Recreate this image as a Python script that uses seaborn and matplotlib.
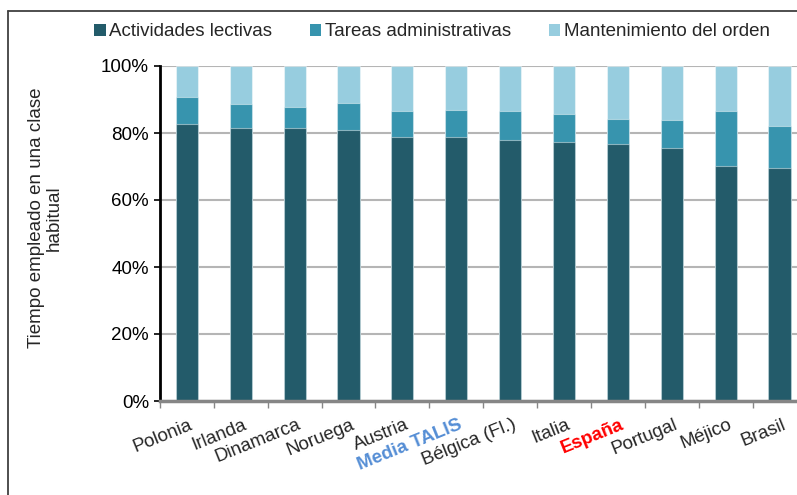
import numpy as np
import pandas as pd
import matplotlib
matplotlib.use('Agg')
import matplotlib.pyplot as plt
import matplotlib.transforms as mtransforms
from matplotlib.lines import Line2D
from matplotlib.patches import Patch
import seaborn as sns

# Data (percent of class time)
paises = ['Polonia', 'Irlanda', 'Dinamarca', 'Noruega', 'Austria', 'Media TALIS',
          'Bélgica (Fl.)', 'Italia', 'España', 'Portugal', 'Méjico', 'Brasil']
lectivas = [82.6, 81.6, 81.6, 81.0, 78.9, 78.9, 77.8, 77.2, 76.8, 75.6, 70.2, 69.5]
administrativas = [8.2, 7.1, 6.3, 8.0, 7.8, 8.1, 8.9, 8.6, 7.5, 8.4, 16.5, 12.7]
orden = [9.2, 11.3, 12.1, 11.0, 13.3, 13.0, 13.3, 14.2, 15.7, 16.0, 13.3, 17.8]
series = ['Actividades lectivas', 'Tareas administrativas', 'Mantenimiento del orden']
colores = ['#235B6A', '#3794AE', '#97CDDF']

df = pd.DataFrame({'pais': paises,
                   'lectivas': np.array(lectivas) / 100,
                   'administrativas': np.array(administrativas) / 100,
                   'orden': np.array(orden) / 100})
df['c1'] = df['lectivas']
df['c2'] = df['c1'] + df['administrativas']
df['c3'] = df['c2'] + df['orden']

sns.set_theme(style='white')
plt.rcParams['font.family'] = ['Liberation Sans', 'DejaVu Sans']

fig = plt.figure(figsize=(7.97, 4.95), dpi=100)
ax = fig.add_axes([160 / 797, 94 / 495, 637 / 797, 335 / 495])

# stacked bars drawn back to front (cumulative totals)
edge = dict(edgecolor=(1, 1, 1, 0.45), linewidth=0.8)
for col, c in zip(['c3', 'c2', 'c1'], colores[::-1]):
    sns.barplot(data=df, x='pais', y=col, order=paises, color=c, width=0.41,
                saturation=1, errorbar=None, ax=ax, zorder=3, **edge)

ax.set_xlim(-0.5, 11.325)
ax.set_ylim(0, 1.0)
ax.set_yticks([0, 0.2, 0.4, 0.6, 0.8, 1.0])
ax.set_yticklabels(['0%', '20%', '40%', '60%', '80%', '100%'], fontsize=13.5, color='black')
ax.yaxis.grid(True, color='#b5b5b5', linewidth=1.5, zorder=0)
ax.xaxis.grid(False)
ax.set_axisbelow(True)

for s in ['top', 'right']:
    ax.spines[s].set_visible(False)
ax.spines['left'].set_color('black')
ax.spines['left'].set_linewidth(2)
ax.spines['left'].set_zorder(5)
ax.spines['bottom'].set_color('#868686')
ax.spines['bottom'].set_linewidth(2.5)
ax.spines['bottom'].set_zorder(5)
ax.tick_params(axis='y', direction='out', length=4, width=1.2, color='black', left=True, pad=4)

# x ticks: marks between categories, labels rotated
ax.set_xticks(np.arange(len(paises)))
ax.set_xticks(np.arange(len(paises)) - 0.5, minor=True)
ax.tick_params(axis='x', which='major', length=0, pad=6)
ax.tick_params(axis='x', which='minor', direction='out', length=5, width=1, color='#868686', bottom=True)
ax.set_xticklabels(paises, rotation=22, ha='right', va='top', rotation_mode='anchor', fontsize=13.5)
offset = mtransforms.ScaledTranslation(1.5 / 72, -5 / 72, fig.dpi_scale_trans)
for lab in ax.get_xticklabels():
    lab.set_transform(lab.get_transform() + offset)
    if lab.get_text() == 'Media TALIS':
        lab.set_color('#558ED5')
        lab.set_fontweight('bold')
    elif lab.get_text() == 'España':
        lab.set_color('#FF0000')
        lab.set_fontweight('bold')

ax.set_xlabel('')
ax.set_ylabel('')
fig.text(45 / 797, 1 - 218 / 495, 'Tiempo empleado en una clase\nhabitual', rotation=90,
         ha='center', va='center', multialignment='center', fontsize=13.5, linespacing=1.05)

# legend
handles = [Patch(facecolor=c, edgecolor='none') for c in colores]
fig.legend(handles, series, loc='center', bbox_to_anchor=(0.542, 1 - 32 / 495), ncol=3,
           frameon=False, fontsize=13.5, handlelength=0.6, handleheight=0.6,
           handletextpad=0.2, columnspacing=2.0, borderaxespad=0)

# chart frame (only left and top edges visible in the reference)
fig.add_artist(Line2D([8 / 797, 8 / 797], [0, 1 - 11 / 495], transform=fig.transFigure,
                      color='#404040', linewidth=1.3))
fig.add_artist(Line2D([8 / 797, 1], [1 - 11 / 495, 1 - 11 / 495], transform=fig.transFigure,
                      color='#404040', linewidth=1.3))

fig.savefig('out.png', dpi=100, facecolor='white')
